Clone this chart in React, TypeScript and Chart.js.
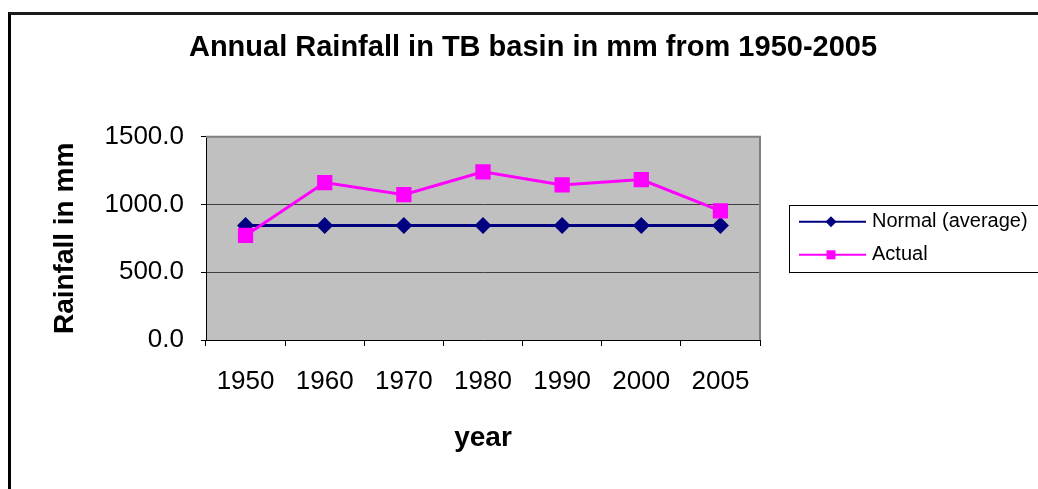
import React, { useEffect, useRef } from 'react';
import { Chart, registerables } from 'chart.js';

Chart.register(...registerables);

// ---- data ----
const years = ['1950', '1960', '1970', '1980', '1990', '2000', '2005'];
const normalRainfall = [846, 846, 846, 846, 846, 846, 846];
const actualRainfall = [772, 1162, 1073, 1241, 1145, 1184, 953];
const yTickValues = [0, 500, 1000, 1500];

const FONT = '"Liberation Sans", Arial, sans-serif';

const plotFrame = {
  id: 'plotFrame',
  beforeDraw(chart: any) {
    const { ctx, chartArea: a } = chart;
    ctx.save();
    ctx.fillStyle = '#C0C0C0';
    ctx.fillRect(a.left, a.top, a.right - a.left, a.bottom - a.top);
    ctx.restore();
  },
  beforeDatasetsDraw(chart: any) {
    const { ctx, chartArea: a } = chart;
    ctx.save();
    ctx.strokeStyle = '#808080';
    ctx.lineWidth = 2;
    ctx.beginPath();
    ctx.moveTo(a.left, a.top);
    ctx.lineTo(a.right, a.top);
    ctx.lineTo(a.right, a.bottom);
    ctx.stroke();
    ctx.restore();
  },
};

const boxLegend = {
  id: 'boxLegend',
  afterDraw(chart: any) {
    const { ctx, chartArea: a } = chart;
    const x0 = a.right + 29;
    const top = a.top + 68;
    ctx.save();
    ctx.strokeStyle = '#000';
    ctx.lineWidth = 1;
    ctx.strokeRect(Math.round(x0) + 0.5, Math.round(top) + 0.5, 300, 67);
    chart.data.datasets.forEach((ds: any, i: number) => {
      const y = top + 17 + i * 33;
      ctx.strokeStyle = ds.borderColor;
      ctx.lineWidth = 2;
      ctx.beginPath();
      ctx.moveTo(x0 + 10, y);
      ctx.lineTo(x0 + 77, y);
      ctx.stroke();
      ctx.fillStyle = ds.backgroundColor;
      const cx = x0 + 42;
      ctx.beginPath();
      if (ds.pointStyle === 'rectRot') {
        const r = 5.5;
        ctx.moveTo(cx, y - r);
        ctx.lineTo(cx + r, y);
        ctx.lineTo(cx, y + r);
        ctx.lineTo(cx - r, y);
        ctx.closePath();
      } else {
        const h = 4.5;
        ctx.rect(cx - h, y - h, 2 * h, 2 * h);
      }
      ctx.fill();
      ctx.fillStyle = '#000';
      ctx.font = `20px ${FONT}`;
      ctx.textBaseline = 'middle';
      ctx.textAlign = 'left';
      ctx.fillText(ds.label, x0 + 83, y);
    });
    ctx.restore();
  },
};

export default function App() {
  const ref = useRef<HTMLCanvasElement | null>(null);

  useEffect(() => {
    if (!ref.current) return;
    const chart = new Chart(ref.current, {
      type: 'line',
      data: {
        labels: years,
        datasets: [
          {
            label: 'Normal (average)',
            data: normalRainfall,
            borderColor: '#000080',
            backgroundColor: '#000080',
            borderWidth: 3,
            pointStyle: 'rectRot',
            pointRadius: 8.5,
            pointBorderWidth: 0,
            tension: 0,
            order: 1,
            yAxisID: 'y',
          },
          {
            label: 'Actual',
            data: actualRainfall,
            borderColor: '#FF00FF',
            backgroundColor: '#FF00FF',
            borderWidth: 3,
            pointStyle: 'rect',
            pointRadius: 10.8,
            pointBorderWidth: 0,
            tension: 0,
            order: 0,
            yAxisID: 'y',
          },
        ],
      },
      options: {
        responsive: false,
        animation: false,
        layout: { padding: 0 },
        plugins: {
          legend: { display: false },
          tooltip: { enabled: false },
          title: {
            display: true,
            text: 'Annual Rainfall in TB basin in mm from 1950-2005',
            color: '#000',
            font: { family: FONT, size: 29, weight: 'bold' },
            padding: { top: 31, bottom: 71 },
          },
        },
        scales: {
          x: {
            offset: true,
            grid: { offset: true, drawOnChartArea: false, tickLength: 6, color: '#000' },
            border: { color: '#000', width: 1 },
            ticks: {
              color: '#000',
              font: { family: FONT, size: 26 },
              padding: 20,
              autoSkip: false,
              maxRotation: 0,
            },
            title: {
              display: true,
              text: 'year',
              color: '#000',
              font: { family: FONT, size: 28, weight: 'bold' },
              padding: { top: 0, bottom: 34 },
            },
            afterFit: (s: any) => {
              s.height = 149;
            },
          },
          y: {
            min: 0,
            max: 1500,
            afterBuildTicks: (s: any) => {
              s.ticks = yTickValues.map((v) => ({ value: v }));
            },
            grid: { color: '#404040', tickColor: '#000', tickLength: 5 },
            border: { color: '#000', width: 1 },
            ticks: {
              color: '#000',
              font: { family: FONT, size: 26 },
              padding: 17,
              callback: (v: any) => Number(v).toFixed(1),
            },
            title: {
              display: true,
              text: 'Rainfall in mm',
              color: '#000',
              font: { family: FONT, size: 28, weight: 'bold' },
              padding: { top: 48, bottom: 0 },
            },
            afterFit: (s: any) => {
              s.width = 206;
            },
          },
          legendSpace: {
            type: 'linear',
            position: 'right',
            display: true,
            grid: { display: false, drawTicks: false },
            ticks: { display: false },
            border: { display: false },
            title: { display: false },
            afterFit: (s: any) => {
              s.width = 306;
            },
          },
        },
      },
      plugins: [plotFrame, boxLegend],
    } as any);
    return () => chart.destroy();
  }, []);

  return (
    <>
      <div
        style={{
          position: 'absolute',
          left: 8,
          top: 12,
          width: 1030,
          height: 477,
          boxSizing: 'border-box',
          borderTop: '3px solid #1a1a1a',
          borderLeft: '3px solid #000',
          background: '#fff',
        }}
      />
      <div
        style={{
          position: 'absolute',
          left: 0,
          top: 0,
          width: 1038,
          height: 489,
          overflow: 'hidden',
        }}
      >
        <canvas ref={ref} width={1066} height={489} style={{ display: 'block' }} />
      </div>
    </>
  );
}
